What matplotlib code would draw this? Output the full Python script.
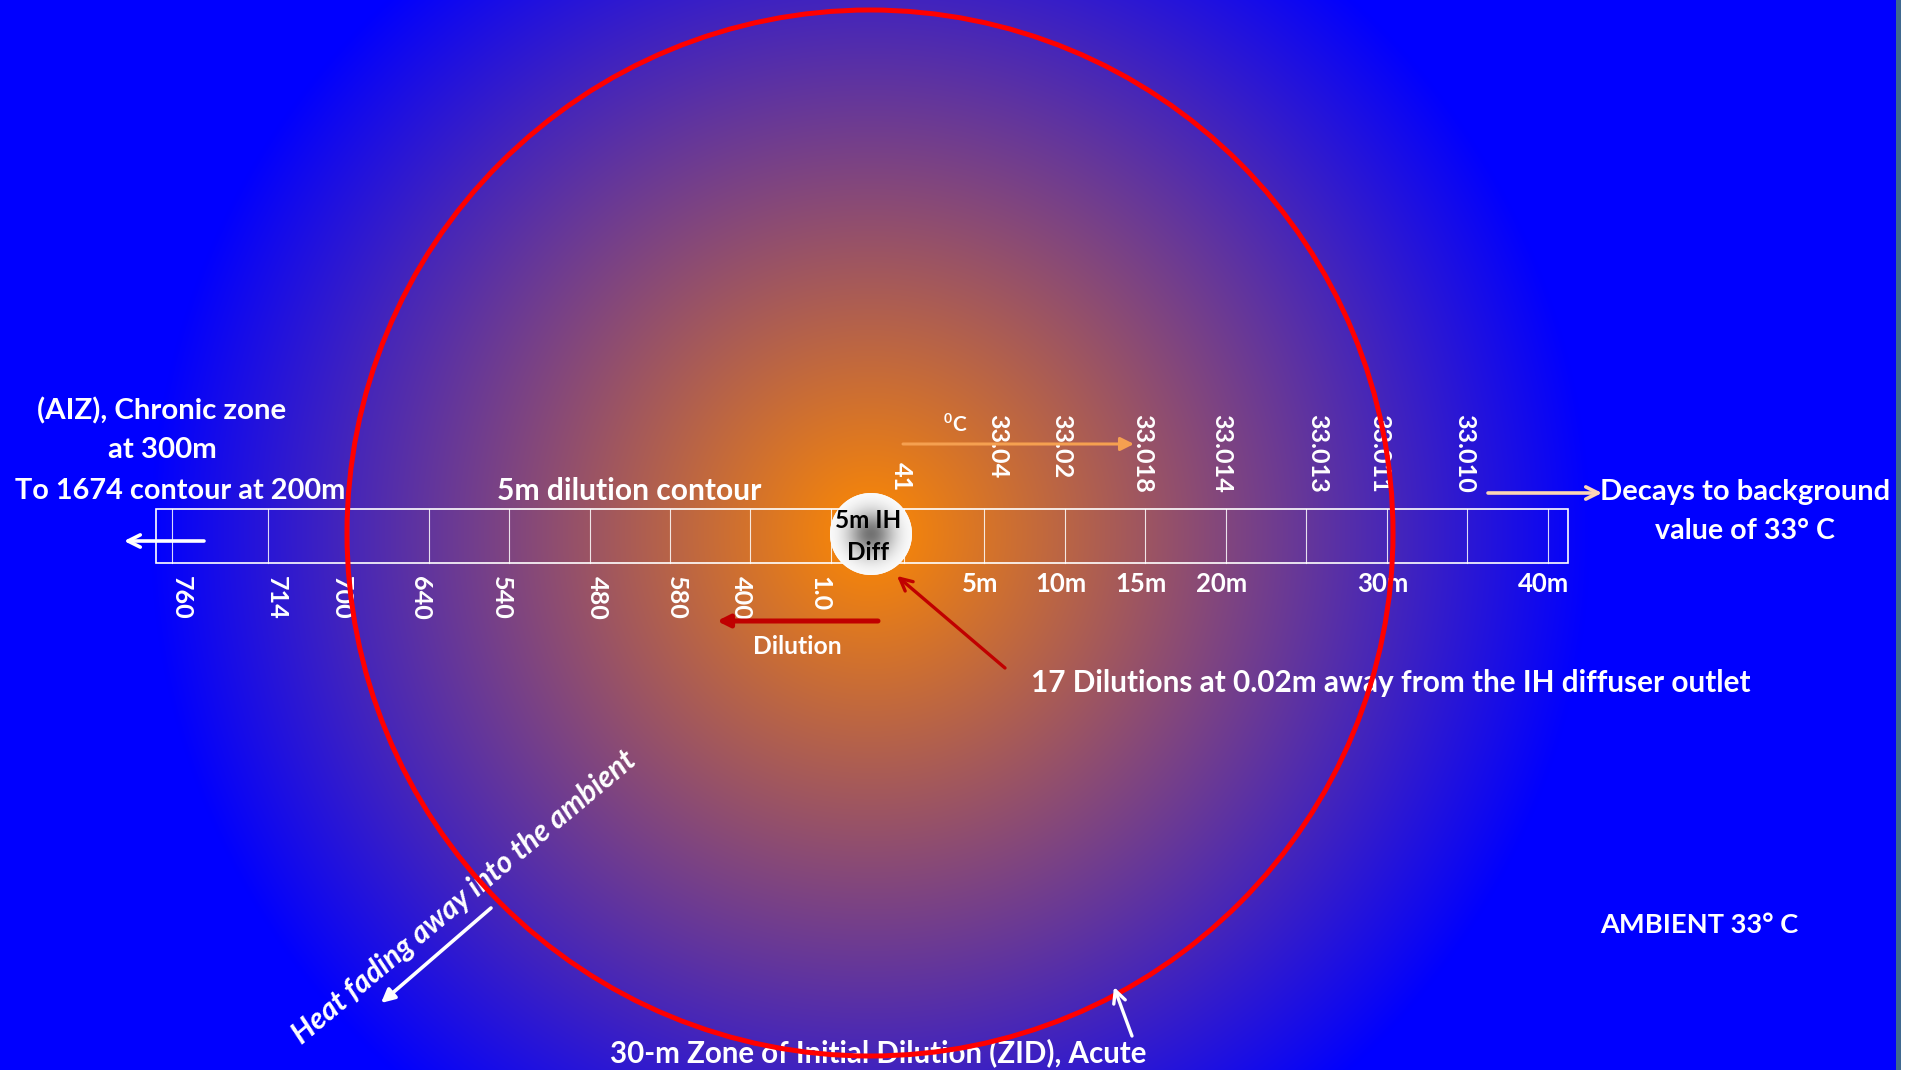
import matplotlib
matplotlib.use('Agg')
import matplotlib.pyplot as plt
import numpy as np
from matplotlib.patches import Circle, Rectangle

# canvas in pixels
W, H = 1908, 1070
CX, CY = 870, 533          # diffuser centre
ZID_R = 523                # 30 m zone radius (px)
GLOW_R = 720               # where the warm glow fades to pure blue

# --- data -----------------------------------------------------------
dilution_labels = ['760', '714', '700', '640', '540', '480', '580', '400', '1.0']
temp_labels = ['41', '33.04', '33.02', '33.018', '33.014', '33.013', '33.011', '33.010']
temp_dist_m = [0, 5, 10, 15, 20, 25, 30, 35]
dist_labels = ['5m', '10m', '15m', '20m', '30m', '40m']
dist_m = [5, 10, 15, 20, 30, 40]
ruler_marks_m = [0, 5, 10, 15, 20, 25, 30, 35, 40]

# --- layout ---------------------------------------------------------
PX_PER_M = 16.1
X0_M = 904
def mx(d):
    return X0_M + PX_PER_M * d

left_slots = [172, 268, 348, 429, 509, 590, 670, 750, 831]
dil_nudge = [9, 8, -7, -8, -8, 7, 6, -9, -11]
temp_nudge = [-3, 13, -3, -3, -4, 11, -7, -3]
RULER_TOP, RULER_BOT = 509, 563
RULER_L, RULER_R = 156, 1568

plt.rcParams['font.family'] = ['Lato', 'DejaVu Sans']
plt.rcParams['font.weight'] = 'bold'

fig = plt.figure(figsize=(W / 100, H / 100), dpi=100)
ax = fig.add_axes([0, 0, 1, 1])
ax.set_xlim(0, W)
ax.set_ylim(H, 0)
ax.axis('off')
renderer = fig.canvas.get_renderer()

# background glow
yy, xx = np.mgrid[0:H, 0:W]
r = np.hypot(xx - CX, yy - CY)
t = np.clip(1 - r / GLOW_R, 0, 1)[..., None]
orange = np.array([255, 138, 0]) / 255
blue = np.array([0, 0, 255]) / 255
bg = t * orange + (1 - t) * blue
bg[:, 1896:1901] = np.array([64, 104, 144]) / 255
bg[:, 1901:] = 1.0
ax.imshow(bg, extent=[0, W, H, 0], interpolation='bilinear', zorder=0)

# ruler
ax.add_patch(Rectangle((RULER_L, RULER_TOP), RULER_R - RULER_L, RULER_BOT - RULER_TOP,
                       fill=False, ec='white', lw=1.2, zorder=2))
for x in left_slots + [mx(d) for d in ruler_marks_m]:
    ax.plot([x, x], [RULER_TOP, RULER_BOT], color='white', lw=0.8, alpha=0.85, zorder=2)

# diffuser disc
DX, DY, DR = 871, 534, 41
disc = Circle((DX, DY), DR, fc='white', ec='none', zorder=3)
ax.add_patch(disc)
gy, gx = np.mgrid[-1:1:120j, -1:1:120j]
gr = np.hypot(gx, gy)
shade = 1 - 0.55 * np.exp(-(gr / 0.55) ** 2)
dimg = np.dstack([shade, shade, shade])
im = ax.imshow(dimg, extent=[DX - DR, DX + DR, DY + DR, DY - DR], zorder=3.1,
               interpolation='bilinear')
im.set_clip_path(disc)
ax.text(868, 521, '5m IH', color='black', fontsize=17.5, ha='center', va='center', zorder=4)
ax.text(868, 552, 'Diff', color='black', fontsize=17.5, ha='center', va='center', zorder=4)


def fit(t, target, rotated=False):
    bb = t.get_window_extent(renderer)
    cur = bb.height if rotated else bb.width
    t.set_fontsize(t.get_fontsize() * target / cur)
    return t


# rotated numbers: size chosen so that '33.018' is ~79 px long
probe = ax.text(0, 0, '33.018', rotation=270, fontsize=20)
fit(probe, 79, rotated=True)
NUM_FS = probe.get_fontsize()
probe.remove()

num = dict(rotation=270, color='white', fontsize=NUM_FS, ha='center', zorder=5)
for lab, sx, nd in zip(dilution_labels, left_slots, dil_nudge):
    ax.text(sx + nd, 576, lab, va='top', **num)
for lab, d, nd in zip(temp_labels, temp_dist_m, temp_nudge):
    if lab == '41':
        ax.text(mx(d) + nd, 491, lab, va='bottom', **num)
    else:
        ax.text(mx(d) + nd, 414, lab, va='top', **num)
for lab, d in zip(dist_labels, dist_m):
    ax.text(mx(d) - 4, 584, lab, color='white', fontsize=18.5, ha='center', va='center', zorder=5)

# degree C marker
ax.text(948, 419, '0', color='white', fontsize=10, ha='center', va='center', zorder=5)
ax.text(959, 425, 'C', color='white', fontsize=15, ha='center', va='center', zorder=5)

# labels (sizes fitted to the widths seen in the picture)
txt = dict(color='white', fontsize=20.5, ha='center', va='center', zorder=5)
fit(ax.text(162, 411, '(AIZ), Chronic zone', **txt), 250)
fit(ax.text(162, 450, 'at 300m', **txt), 109)
fit(ax.text(180, 491, 'To 1674 contour at 200m', **txt), 331)
fit(ax.text(629, 491, '5m dilution contour', **txt), 265)
fit(ax.text(1745, 492, 'Decays to background', **txt), 291)
fit(ax.text(1745, 531, 'value of 33\u00b0 C', **txt), 180)
fit(ax.text(1391, 683, '17 Dilutions at 0.02m away from the IH diffuser outlet', **txt), 721)
fit(ax.text(1699, 925, 'AMBIENT 33\u00b0 C', **txt), 198)
fit(ax.text(878, 1053, '30-m Zone of Initial Dilution (ZID), Acute', **txt), 538)
fit(ax.text(797, 647, 'Dilution', **txt), 89)
heat = fit(ax.text(464, 897, 'Heat fading away into the ambient', color='white', fontsize=20.5,
                   style='italic', ha='center', va='center', zorder=5), 440)
heat.set_rotation(40)
heat.set_rotation_mode('anchor')

# arrows
def arrow(tail, head, color, style, lw, ms=22):
    ax.annotate('', xy=head, xytext=tail, zorder=6,
                arrowprops=dict(arrowstyle=style, color=color, lw=lw,
                                mutation_scale=ms, shrinkA=0, shrinkB=0))

arrow((204, 541), (124, 541), 'white', '->', 2.6)
arrow((1488, 493), (1602, 493), '#fcd5b5', '->', 2.6)
arrow((903, 444), (1134, 444), '#f5a050', '-|>', 2.2, 20)
arrow((878, 621), (717, 621), '#c00000', '-|>', 3.6, 18)
arrow((1005, 668), (897, 576), '#c00000', '->', 2.4)
arrow((491, 908), (381, 1003), 'white', '-|>', 2.6, 20)
arrow((1132, 1036), (1114, 987), 'white', '->', 2.4)

# ZID boundary
ax.add_patch(Circle((CX, CY), ZID_R, fill=False, ec='#ff0000', lw=3.6, zorder=5.5))

fig.savefig('out.png', dpi=100)
